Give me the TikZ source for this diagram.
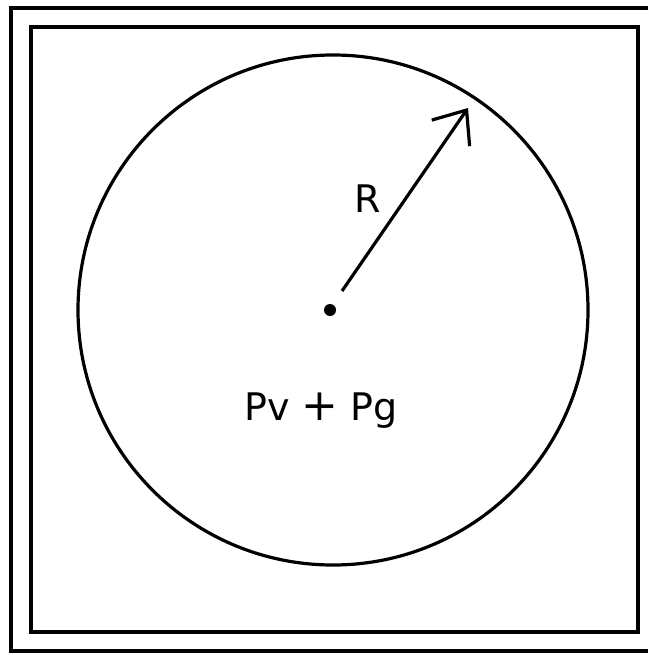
\documentclass[tikz,border=0pt]{standalone}
\usepackage{fontspec}
\setmainfont{DejaVu Sans}
\usetikzlibrary{arrows.meta,positioning}
\tikzset{
  frameline/.style={line width=3.5pt},
  dotmark/.style={circle, fill=black, inner sep=0pt, minimum size=12pt},
  lbl/.style={font=\fontsize{38}{44}\selectfont, inner sep=0pt}
}

\begin{document}
\begin{tikzpicture}[x=1pt, y=-1pt]
\useasboundingbox (0,0) rectangle (648,655);
% frames (outer one runs off the right edge)
\draw[frameline] (648,8) -- (11,8) -- (11,651) -- (648,651);
\draw[frameline] (31,27) rectangle (638,632);

% bubble
\node[circle, draw, line width=3.2pt, minimum size=510pt, inner sep=0pt] (bubble) at (333,310) {};
\node[dotmark] (ctr) at (330,310) {};

% radius
\coordinate (tail) at (342,291);
\coordinate (tip) at (468,108);
\draw[line width=3.2pt, -{Straight Barb[length=28pt, width=46pt]}] (tail) -- (tip);
\node[lbl] (rlab) at (368,199) {R};
\node[lbl] (plab) at (321,411) {Pv {\fontsize{44}{44}\selectfont+} Pg};
\end{tikzpicture}
\end{document}
